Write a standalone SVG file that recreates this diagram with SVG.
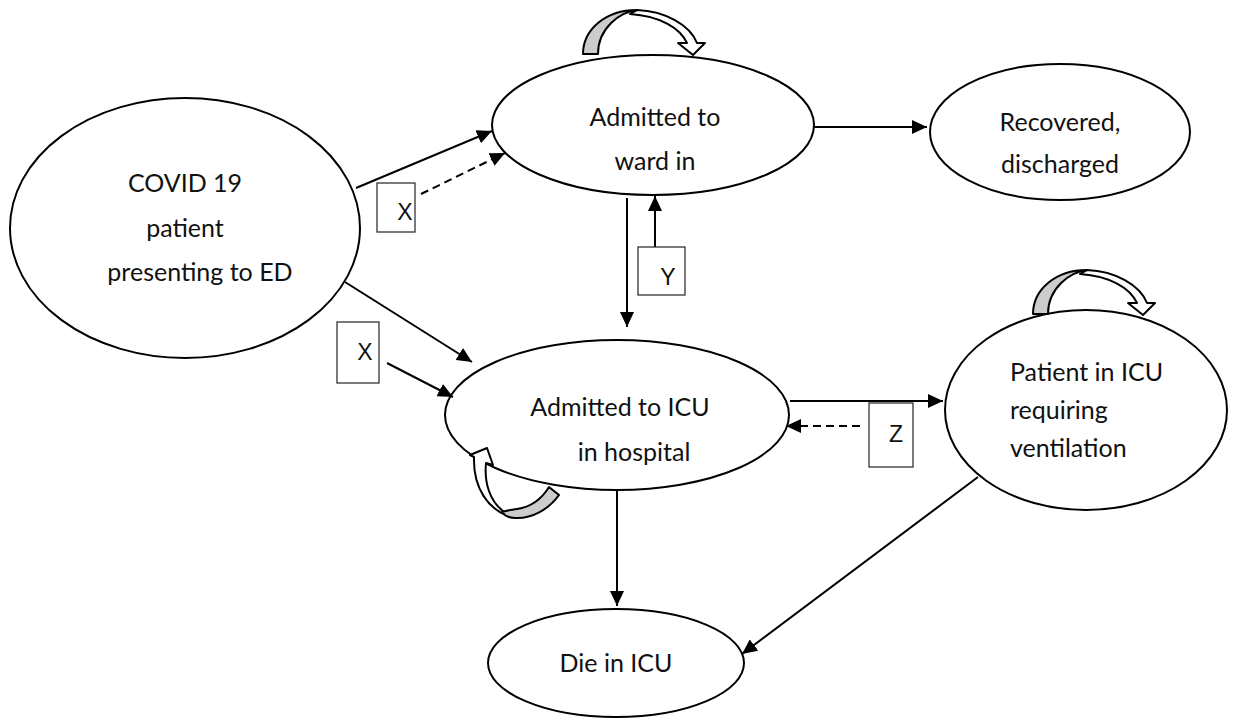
<svg xmlns="http://www.w3.org/2000/svg" width="1256" height="723" viewBox="0 0 1256 723">
<defs>
<style>
.node ellipse{fill:#fff;stroke:#000;stroke-width:2}
.lbl{font-family:Lato,"Noto Sans",sans-serif;font-size:25px;fill:#111}
.box rect{fill:#fff;stroke:#333;stroke-width:1.3}
.box text{font-family:"Liberation Sans",Arial,sans-serif;font-size:23px;fill:#111}
.conn line{stroke:#000;stroke-width:2;marker-end:url(#ah)}
.conn .dash{stroke-dasharray:8 5}
</style>
<marker id="ah" markerUnits="userSpaceOnUse" markerWidth="16" markerHeight="14" refX="15" refY="7" orient="auto"><path d="M0,0 L15,7 L0,14 Z" fill="#000"/></marker>
<g id="curl" stroke="#000" stroke-width="2" stroke-linejoin="round">
<path fill="#cccccc" d="M583,54 C583,30 605,10 637,10 C620,12 598,28 598,54 Z"/>
<path fill="#ffffff" d="M637,10 C665,11 690,25 697,43 L705,43 L693,55 L678,43 L687,43 C680,28 660,16 630,14 C633,12 635,11 637,10 Z"/>
</g>
</defs>
<rect width="1256" height="723" fill="#fff"/>

<g id="node-covid" class="node">
<ellipse cx="185" cy="228" rx="175" ry="130"/>
<text class="lbl" text-anchor="middle" x="185" y="192">COVID 19</text>
<text class="lbl" text-anchor="middle" x="185" y="237">patient</text>
<text class="lbl" text-anchor="middle" x="200" y="281">presenting to ED</text>
</g>
<g id="node-ward" class="node">
<ellipse cx="653" cy="125" rx="161" ry="70"/>
<text class="lbl" text-anchor="middle" x="655" y="126">Admitted to</text>
<text class="lbl" text-anchor="middle" x="655" y="170">ward in</text>
</g>
<g id="node-recovered" class="node">
<ellipse cx="1060" cy="132" rx="130" ry="68"/>
<text class="lbl" text-anchor="middle" x="1060" y="131">Recovered,</text>
<text class="lbl" text-anchor="middle" x="1060" y="173">discharged</text>
</g>
<g id="node-icu" class="node">
<ellipse cx="617" cy="415" rx="172" ry="75"/>
<text class="lbl" text-anchor="middle" x="620" y="416">Admitted to ICU</text>
<text class="lbl" text-anchor="middle" x="634" y="461">in hospital</text>
</g>
<g id="node-vent" class="node">
<ellipse cx="1086" cy="410" rx="141" ry="100"/>
<text class="lbl" x="1010" y="381">Patient in ICU</text>
<text class="lbl" x="1010" y="419">requiring</text>
<text class="lbl" x="1010" y="457">ventilation</text>
</g>
<g id="node-die" class="node">
<ellipse cx="616" cy="663" rx="128" ry="54"/>
<text class="lbl" text-anchor="middle" x="616" y="672">Die in ICU</text>
</g>

<g id="self-loops">
<use href="#curl"/>
<use href="#curl" transform="translate(450,260)"/>
<g id="loop-icu" stroke="#000" stroke-width="2" stroke-linejoin="round">
<path fill="#ffffff" d="M470,455 L487,448 L493,465 L486,463 C484,483 490,501 503,511 L508,516 C489,509 473,489 474,457 Z"/>
<path fill="#cccccc" d="M549,487 L559,495 C549,509 532,519 515,518 C510,518 505,516 502,512 C508,510 512,510 517,509 C531,507 541,500 549,487 Z"/>
</g>
</g>

<g id="connectors" class="conn">
<line x1="356" y1="188" x2="492" y2="131"/>
<line class="dash" x1="421" y1="194" x2="505" y2="153"/>
<line x1="345" y1="282" x2="472" y2="362"/>
<line x1="387" y1="363" x2="453" y2="397"/>
<line x1="627" y1="198" x2="627" y2="327"/>
<line x1="655" y1="247" x2="655" y2="196"/>
<line x1="813" y1="127" x2="927" y2="127"/>
<line x1="790" y1="401" x2="943" y2="401"/>
<line class="dash" x1="860" y1="426" x2="786" y2="426"/>
<line x1="617" y1="490" x2="617" y2="606"/>
<line x1="978" y1="477" x2="742" y2="654"/>
</g>

<g id="box-x1" class="box">
<rect x="377" y="183" width="38" height="49"/>
<text x="405" y="220" text-anchor="middle">X</text>
</g>
<g id="box-x2" class="box">
<rect x="337" y="322" width="42" height="61"/>
<text x="365" y="360" text-anchor="middle">X</text>
</g>
<g id="box-y" class="box">
<rect x="638" y="247" width="47" height="48"/>
<text x="668" y="285" text-anchor="middle">Y</text>
</g>
<g id="box-z" class="box">
<rect x="869" y="403" width="44" height="64"/>
<text x="896" y="442" text-anchor="middle">Z</text>
</g>
</svg>
